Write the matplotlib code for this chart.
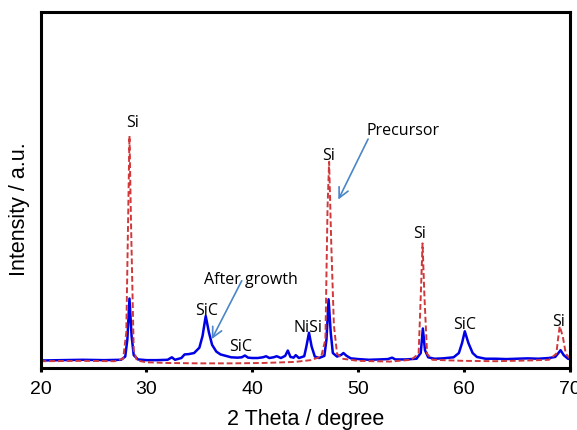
"""XRD patterns of the precursor and the sample after growth."""

import matplotlib.pyplot as plt

# after growth (solid blue), y in % of axis height
growth_x = [20.0, 22.0, 24.0, 26.0, 27.6, 28.0, 28.2, 28.4, 28.6, 28.8, 29.2, 30.0,
            31.0, 32.0, 32.4, 32.7, 33.3, 33.6, 34.0, 34.5, 35.0, 35.3, 35.6, 35.9,
            36.2, 36.6, 37.0, 37.5, 38.0, 38.6, 39.0, 39.3, 39.6, 40.0, 40.5, 41.0,
            41.3, 41.6, 42.0, 42.3, 42.7, 43.1, 43.35, 43.6, 43.9, 44.1, 44.4, 44.9,
            45.1, 45.35, 45.6, 45.9, 46.3, 46.8, 47.0, 47.2, 47.4, 47.6, 48.0, 48.4,
            48.6, 48.9, 49.3, 50.0, 51.0, 52.0, 52.8, 53.2, 53.5, 54.5, 55.5, 55.9,
            56.1, 56.3, 56.6, 57.2, 58.0, 59.0, 59.5, 59.8, 60.06, 60.4, 60.8, 61.2,
            62.0, 63.0, 64.0, 65.0, 66.0, 67.0, 68.0, 68.6, 68.9, 69.1, 69.4, 69.8, 70.0]
growth_y = [2.1, 2.2, 2.3, 2.2, 2.3, 3.2, 8.0, 19.5, 9.0, 3.6, 2.4, 2.2,
            2.2, 2.3, 3.0, 2.3, 2.8, 3.8, 3.9, 4.2, 5.7, 9.0, 14.6, 10.0,
            6.5, 4.6, 3.8, 3.4, 3.0, 2.9, 3.0, 3.5, 2.9, 2.8, 2.8, 3.0,
            3.3, 2.8, 3.0, 3.3, 2.8, 3.4, 4.9, 3.1, 2.9, 3.6, 2.8, 3.3,
            6.0, 9.9, 6.0, 3.2, 2.8, 3.4, 8.0, 19.3, 10.0, 4.2, 3.2, 3.7,
            4.2, 3.4, 2.7, 2.5, 2.3, 2.4, 2.5, 2.9, 2.4, 2.4, 2.6, 4.2,
            11.1, 5.0, 3.0, 2.6, 2.7, 3.0, 4.2, 7.0, 10.3, 7.0, 4.2, 3.1,
            2.6, 2.6, 2.5, 2.6, 2.7, 2.6, 2.8, 3.1, 4.2, 5.0, 3.6, 2.6, 2.5]

# precursor (dashed red)
precursor_x = [20.0, 24.0, 27.0, 27.8, 28.1, 28.4, 28.55, 28.8, 29.1, 30.0, 32.0,
               35.0, 38.0, 41.0, 44.0, 45.5, 46.5, 46.9, 47.1, 47.25, 47.45, 47.7,
               48.0, 48.5, 50.0, 53.0, 55.0, 55.7, 55.9, 56.07, 56.25, 56.5, 57.0,
               60.0, 63.0, 66.0, 68.0, 68.7, 68.9, 69.02, 69.3, 69.6, 70.0]
precursor_y = [1.9, 2.0, 1.9, 2.6, 10.0, 65.2, 40.0, 5.0, 2.1, 1.6, 1.4,
               1.3, 1.3, 1.4, 1.7, 2.2, 3.2, 8.0, 45.0, 57.9, 35.0, 12.0,
               4.0, 2.6, 2.0, 1.8, 2.3, 4.0, 20.0, 35.0, 20.0, 4.0, 2.3,
               2.0, 1.9, 2.1, 2.3, 4.0, 9.0, 11.7, 9.0, 4.0, 2.6]

# peak labels: text, x, baseline y
peak_labels = ["Si", "SiC", "SiC", "NiSi", "Si", "Si", "SiC", "Si"]
label_x = [28.65, 35.68, 38.9, 45.24, 47.24, 55.83, 60.09, 68.91]
label_y = [68.0, 15.2, 5.1, 10.5, 58.6, 36.9, 11.3, 12.2]

plt.rcParams["font.family"] = ["Liberation Sans", "DejaVu Sans"]
note_font = ["Open Sans", "DejaVu Sans"]
arrow_color = "#4a86c8"

fig, ax = plt.subplots(figsize=(5.77, 4.31), dpi=100)
fig.subplots_adjust(left=0.0702, right=0.988, top=0.970, bottom=0.1439)

ax.plot(growth_x, growth_y, color="#0000e6", linewidth=1.8)
ax.plot(precursor_x, precursor_y, color="#d0393b", linewidth=1.4,
        linestyle=(0, (3, 1.5)))

for text, x, y in zip(peak_labels, label_x, label_y):
    ax.text(x, y, text, ha="center", va="baseline", fontsize=11.5,
            family=note_font)

ax.text(50.74, 65.7, "Precursor", ha="left", va="baseline", fontsize=11.5,
        family=note_font)
ax.text(39.83, 23.9, "After growth", ha="center", va="baseline",
        fontsize=11.5, family=note_font)

arrow = dict(arrowstyle="->", color=arrow_color, lw=1.2, mutation_scale=18,
             shrinkA=0, shrinkB=0)
ax.annotate("", xy=(48.12, 47.3), xytext=(50.93, 64.3), arrowprops=arrow)
ax.annotate("", xy=(36.17, 8.1), xytext=(39.0, 24.5), arrowprops=arrow)

ax.set_xlim(20, 70)
ax.set_ylim(0, 100)
ax.set_xticks(range(20, 71, 10))
ax.set_yticks([])
ax.tick_params(axis="x", direction="out", length=3, width=2.2, labelsize=14,
               pad=6)
for spine in ax.spines.values():
    spine.set_linewidth(2.2)

ax.set_xlabel("2 Theta / degree", fontsize=15.5)
ax.set_ylabel("Intensity / a.u.", fontsize=15.5)
ax.xaxis.set_label_coords(0.5, -0.112)
ax.yaxis.set_label_coords(-0.039, 0.45)
ax.yaxis.label.set_va("center")
ax.xaxis.label.set_va("top")

fig.savefig("out.png", dpi=100)
plt.close(fig)
